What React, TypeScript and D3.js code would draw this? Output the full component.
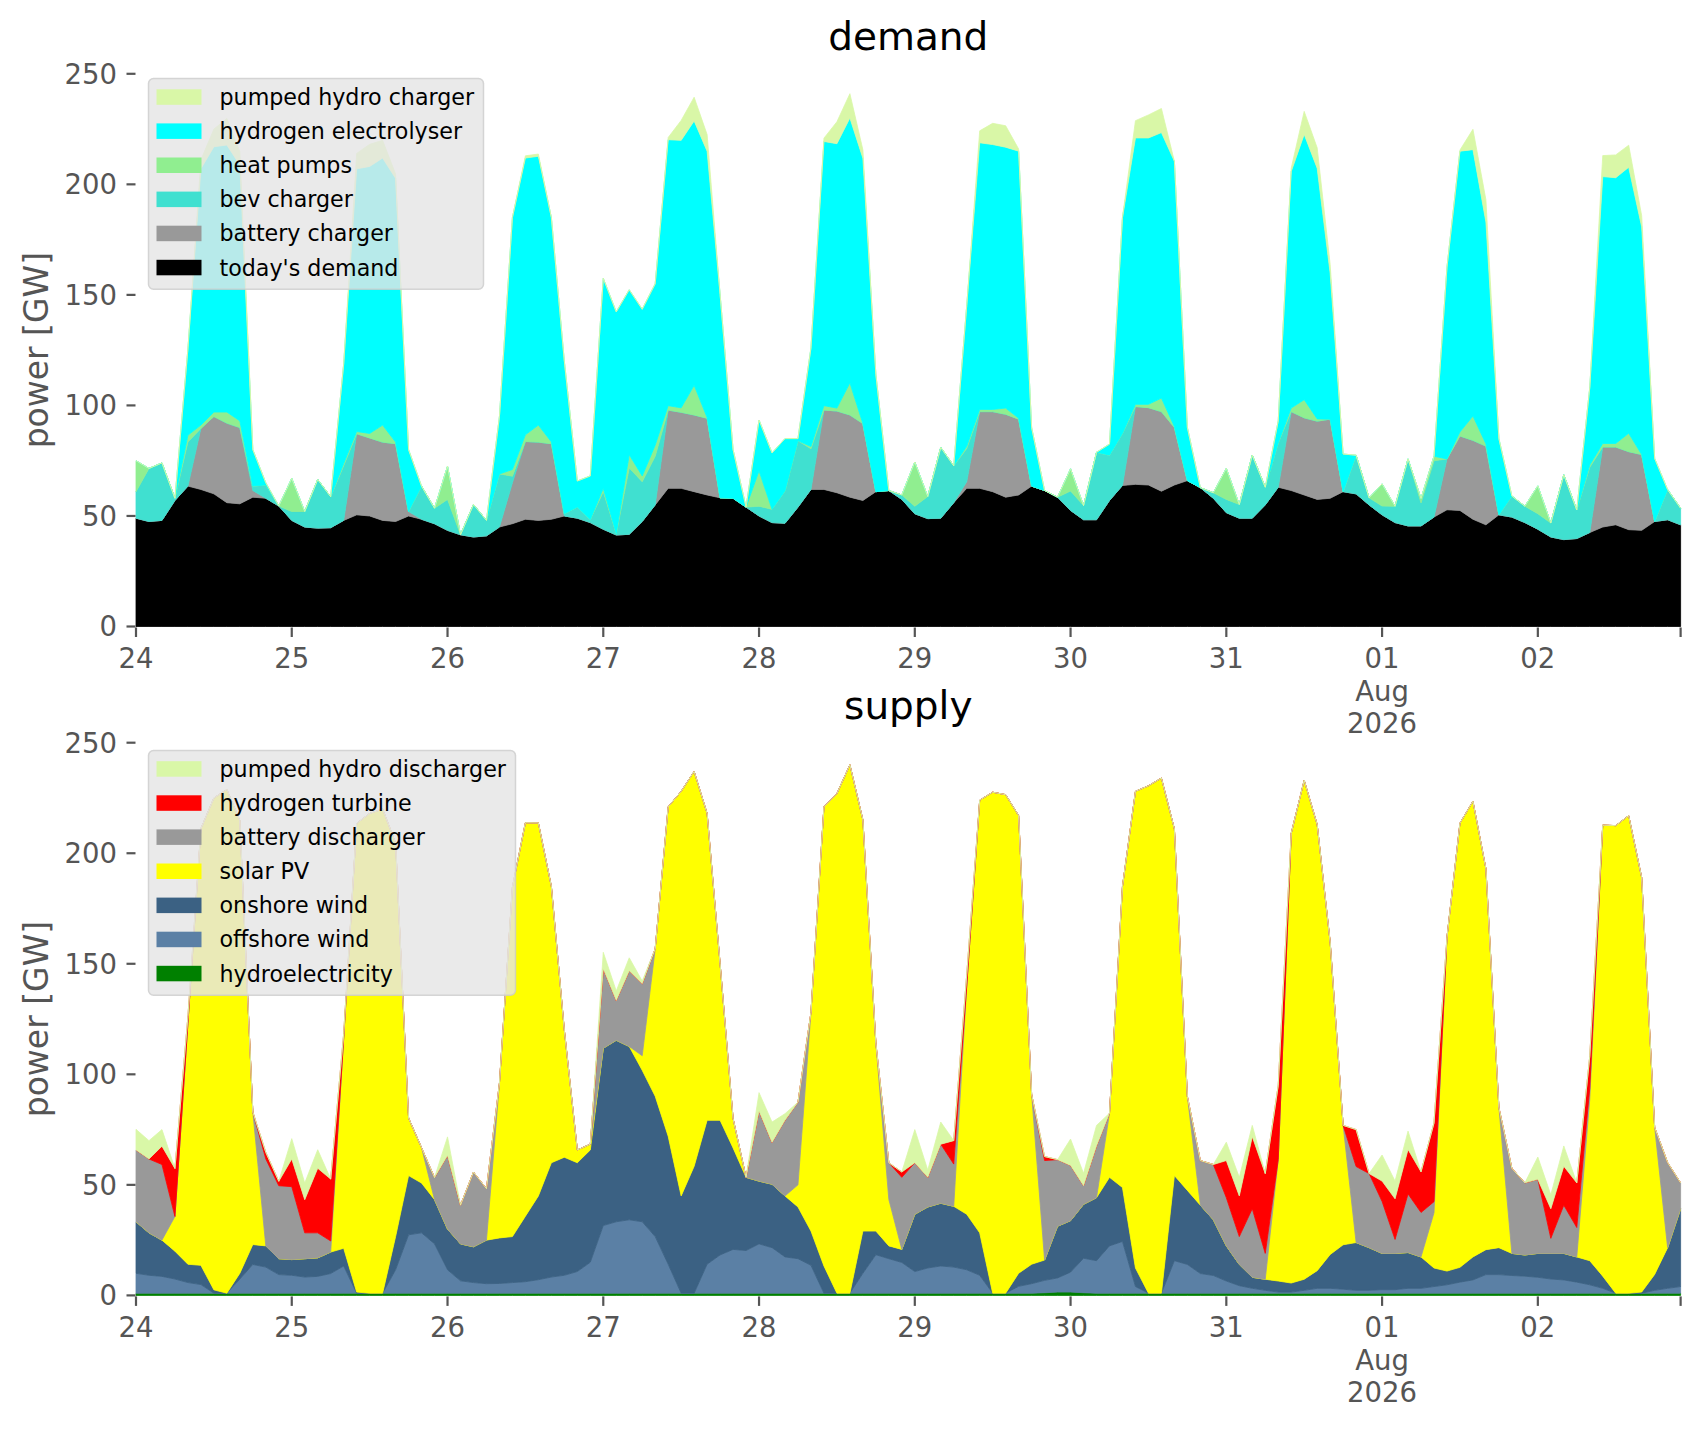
import * as d3 from "d3"

// one sample every 2 hours, starting 24 Jul 2026 00:00 (GW)
const START = new Date(2026, 6, 24, 0, 0)
const STEP_H = 2

// ---- demand ----
const todaysDemand = [
  49, 47.5, 48, 57, 63.5, 62, 60, 56, 55.5, 58.5, 58, 54.5,
  48, 45, 44.5, 44.7, 48, 50.5, 50, 48, 47.5, 50, 48.5, 46.5,
  43.5, 41.5, 40.5, 41, 45, 46.5, 48.5, 48, 48.5, 50, 49, 47,
  44, 41.4, 41.7, 47.5, 55, 62.5, 62.5, 61, 59.5, 58.2, 58, 54,
  50, 47, 46.7, 54, 62, 62, 60.5, 58.5, 57, 61, 61.5, 57.5,
  51, 48.8, 49, 56, 62.5, 62.5, 61, 58.5, 59.5, 63.5, 61.5, 58.5,
  52.5, 48.3, 48.3, 57, 63.8, 64.3, 64, 61.2, 64, 66, 62.8, 58,
  51.5, 49, 49, 55, 63, 61.5, 59.5, 57.5, 58, 61, 60, 55,
  50.5, 47, 45.5, 45.5, 49.5, 52.8, 52.5, 48.5, 46, 50.5, 49.5, 47,
  44, 40.5, 39.3, 39.8, 42.5, 45, 46, 43.8, 43.5, 47.5, 48.3, 46,
]
const batteryCharger = [
  0, 0, 0, 0, 0, 27.6, 35, 36, 34.5, 3, 0, 0,
  0, 0, 0, 0, 0, 36.7, 35.3, 35.4, 35.2, 2, 0, 0,
  0, 0, 0, 0, 0, 18.5, 35.2, 35.4, 34.2, 0, 0, 0,
  0, 0, 0, 0, 0, 35.4, 34.4, 34.7, 34.7, 0, 0, 0,
  0, 0, 0, 0, 0, 35.9, 37, 37.2, 34.8, 0, 0, 0,
  0, 0, 0, 0, 3, 34.7, 36.2, 37.5, 34.3, 0, 0, 0,
  0, 0, 0, 0, 0, 35.2, 35, 36, 26, 0, 0, 0,
  0, 0, 0, 0, 0, 35.7, 34.9, 35.4, 35.8, 0, 0, 0,
  0, 0, 0, 0, 0, 23, 33.7, 35.7, 35.6, 0, 0, 0,
  0, 0, 0, 0, 0, 36.2, 35.2, 35.3, 34.3, 0, 0, 0,
]
const bevCharger = [
  12, 24, 26, 1, 20, 0, 0, 0, 0, 2, 6, 0,
  4, 7, 22, 14, 24.7, 0, 0, 0, 0, 0, 15, 7,
  14, 0, 14.7, 7, 24, 3, 0, 0, 0, 1, 5, 1.3,
  17, 0.6, 30, 18, 22, 0, 0, 0, 0, 0, 0, 0,
  4.4, 6, 14.6, 30, 18.4, 0, 0, 0, 0, 0, 0, 2,
  3.4, 10, 32, 16.7, 15, 0, 0, 0, 0, 0, 0, 0,
  8.8, 6.4, 30.5, 20.5, 23.5, 0, 0, 0, 0, 0, 0, 2.5,
  6, 6.2, 28.5, 8, 20, 0, 0, 0, 0, 0, 17.5, 3.2,
  4, 7.4, 30.3, 10.4, 25.5, 0, 0, 0, 0, 0, 9.5, 7.4,
  7, 6.3, 29.3, 12.9, 29.5, 0, 0, 0, 0, 0, 13.6, 7.5,
]
const heatPumps = [
  14, 0, 0, 0, 3, 1.5, 2, 5, 3, 0, 0, 0,
  15, 0, 0, 0, 1, 1, 2, 7.7, 0.7, 0, 0, 0,
  15, 0, 0, 0, 0, 3, 3, 7.7, 0.8, 0, 0, 0,
  1.5, 0, 6, 2.6, 5, 2, 2, 13.4, 0.3, 0, 0, 0,
  16, 0, 0, 0, 1, 2, 1.3, 14.5, 0, 0, 0, 0,
  20, 0, 0, 0, 1, 1, 1, 2.8, 0.4, 0, 0, 0,
  10, 0, 0, 0, 0, 1, 1.5, 6.1, 0.4, 0, 0, 0,
  14, 0, 0, 0, 0, 1.6, 8.2, 1, 0, 0, 0, 0,
  10, 0, 0, 2, 2, 0, 1.8, 11, 1, 0, 0, 0,
  12.6, 0, 0, 0, 1, 1.6, 1.6, 8.3, 0, 0, 0, 0,
]
const hydrogenElectrolyser = [
  0, 0, 0, 0, 39, 116, 120, 120.8, 115.8, 16.5, 1, 0,
  0, 0, 0, 0, 45, 118.8, 120.8, 120.8, 119.3, 28, 0, 0,
  0, 0, 0, 0, 26, 114, 125.2, 121.6, 101.5, 69, 11.8, 19.8,
  95, 100.3, 74.6, 75.4, 73, 120.3, 121, 119.6, 120.5, 92, 22, 0,
  23, 25.5, 23.7, 1, 44.6, 119.5, 119.6, 119.8, 120, 53, 0, 0,
  0, 0, 0, 0, 63.6, 120.6, 119.8, 118, 120.8, 26.5, 0, 0,
  0, 0, 0, 5, 97.7, 120.5, 120.5, 120.1, 120, 24, 0, 0,
  0, 0, 0, 0, 10, 107, 120, 113.4, 66, 17, 0, 0,
  0, 0, 0, 0, 0, 86.7, 127, 120.5, 100.4, 34.5, 0, 0,
  0, 0, 0, 0, 35, 120.7, 120.2, 120.3, 103, 28.5, 0, 0,
]
const pumpedHydroCharger = [
  0, 0, 0, 0, 0, 4, 8, 12, 6, 0, 0, 0,
  0, 0, 0, 0, 0, 7, 10, 8, 2, 0, 0, 0,
  0, 0, 0, 0, 0, 0, 1, 1, 0, 0, 0, 0,
  0, 0, 0, 0, 0, 1, 9, 10.7, 7.5, 0, 0, 0,
  0, 0, 0, 0, 0, 1.5, 9.9, 11, 3.8, 0, 0, 0,
  0, 0, 0, 0, 0, 5.4, 9.6, 9.7, 1, 0, 0, 0,
  0, 0, 0, 0, 0, 7.8, 10.4, 10.9, 0, 0, 0, 0,
  0, 0, 0, 0, 0, 1.5, 10.4, 9.2, 4, 0, 0, 0,
  0, 0, 0, 0, 0, 0, 0.5, 9.2, 10, 0, 0, 0,
  0, 0, 0, 0, 0, 9.5, 10.3, 10, 5, 0, 0, 0,
]

// ---- supply ----
const hydroelectricity = [
  1, 1, 1, 1, 1, 1, 1, 1, 1, 1, 1, 1,
  1, 1, 1, 1, 1, 1, 1, 1, 1, 1, 1, 1,
  1, 1, 1, 1, 1, 1, 1, 1, 1, 1, 1, 1,
  1, 1, 1, 1, 1, 1, 1, 1, 1, 1, 1, 1,
  1, 1, 1, 1, 1, 1, 1, 1, 1, 1, 1, 1,
  1, 1, 1, 1, 1, 1, 1, 1, 1, 1, 1.2, 1.5,
  1.5, 1.2, 1, 1, 1, 1, 1, 1, 1, 1, 1, 1,
  1, 1, 1, 1, 1, 1, 1, 1, 1, 1, 1, 1,
  1, 1, 1, 1, 1, 1, 1, 1, 1, 1, 1, 1,
  1, 1, 1, 1, 1, 1, 1, 1, 1, 1, 1, 1,
]
const offshoreWind = [
  9, 8.1, 7.6, 6.4, 4.8, 3.9, 0, 0, 6.4, 13, 11.8, 8.4,
  8.1, 7.3, 7.6, 8.9, 12.3, 0, 0, 0, 10.6, 26.4, 27.3, 22.3,
  10.6, 5.6, 4.8, 4.3, 4.4, 4.8, 5.2, 6.1, 7.3, 8.1, 9.8, 14,
  30.6, 32.3, 33.2, 32.3, 25.6, 13.1, 0, 0, 13.1, 17.3, 19.8, 19.3,
  22.3, 20.6, 16.4, 15.6, 12.6, 0, 0, 0, 9, 17.4, 15.6, 13.9,
  9.8, 11.4, 12.3, 11.8, 10.6, 8.1, 0, 0, 3.1, 4.3, 5.6, 6.4,
  9, 15.6, 14.7, 21.4, 23.4, 3, 0, 0, 14.7, 13, 8.9, 8,
  5.5, 3.4, 2.2, 1.3, 0.5, 0.5, 1.3, 2.2, 2.2, 1.8, 1.3, 1.3,
  1.6, 1.6, 2.2, 2.2, 3, 3.8, 5, 6, 8.4, 8.4, 8, 7.7,
  7.2, 6.4, 6, 5, 3.8, 2.2, 0, 0, 0, 1.3, 2.2, 3,
]
const onshoreWind = [
  23.3, 19.2, 16.4, 12.6, 8.3, 8.7, 1.5, 0, 2.6, 9, 9.6, 7.2,
  7.1, 8.3, 8.4, 9.7, 8, 0.5, 0, 0, 15, 26.8, 22.5, 20,
  18.4, 16.7, 16.2, 19.7, 20.6, 20.8, 29.6, 37.9, 51.7, 53.4, 49.2, 50.8,
  80.2, 82.1, 78.4, 68.5, 63.5, 57.9, 44, 57.4, 65.1, 60.9, 45.9, 33.1,
  28.4, 28.7, 27.6, 23.4, 15.5, 12.3, 0, 0, 19.1, 10.7, 5.8, 5.9,
  25.9, 27.6, 28.4, 27.5, 25.1, 19.2, 0, 0, 5.9, 8.8, 9.2, 23.4,
  23.3, 24.4, 28.5, 31, 24.4, 8.4, 0, 0, 38.5, 33.5, 30.9, 25.2,
  15.9, 9.6, 5, 5, 5, 4.1, 5, 8, 15.3, 20.1, 21.6, 19.3,
  16.4, 16.4, 16.2, 14.2, 8.4, 6.2, 6.7, 10.4, 11.3, 12.2, 10, 9.6,
  10.8, 11.6, 12, 11.4, 10.9, 5.5, 0, 0, 0.5, 7.2, 18.4, 35.2,
]
const solarPV = [
  0, 0, 0, 15.7, 109, 197.5, 222.5, 227.8, 204.8, 60, 0, 0,
  0, 0, 0, 0, 95, 212, 217, 219, 178, 26, 16, 0,
  0, 0, 0, 0, 70, 158, 178, 168.7, 125, 57.5, 5.8, 2.6,
  0, 0, 0, 6.6, 66.7, 149, 183, 178.6, 138.8, 70.8, 13.3, 0,
  0, 0, 0, 10, 98.9, 207.7, 226, 239, 186, 85, 21, 0,
  0, 0, 0, 0, 103.3, 195.7, 226.6, 225.5, 207, 76.9, 0, 0,
  0, 0, 0, 29, 136.2, 215.6, 229.5, 233, 156.8, 42.5, 0, 0,
  0, 0, 0, 0, 55, 203.4, 225.7, 201.8, 141.3, 54, 0, 0,
  0, 0, 0, 0, 25, 151, 200.9, 206.1, 172.3, 63.4, 0, 0,
  0, 0, 0, 0, 73, 204, 211.5, 216, 187.5, 66.5, 0, 0,
]
const batteryDischarger = [
  32.5, 33.4, 34.2, 0, 0, 0, 0, 0, 0, 0, 39.3, 33,
  33, 11.7, 11.3, 5, 0, 0, 0, 0, 0, 0, 0, 10,
  33.3, 17.5, 33.8, 23.3, 0, 0, 0, 0, 0, 0, 0, 0,
  35.9, 18, 34.2, 32.6, 0, 0, 0, 0, 0, 0, 0, 0,
  31.7, 18.9, 34.2, 37.4, 0, 0, 0, 0, 0, 0, 16.6, 32.6,
  23.3, 13.4, 26.7, 19.1, 0, 0, 0, 0, 0, 0, 45, 30.1,
  25, 8.4, 23.4, 0, 0, 0, 0, 0, 0, 0, 20.2, 25,
  21.8, 12.6, 31, 11.7, 0, 0, 0, 0, 0, 0, 34.4, 33.5,
  23.5, 6.3, 26.5, 20.1, 5, 0, 0, 0, 0, 0, 38.5, 32.6,
  33.5, 6.8, 21.8, 13.3, 5, 0, 0, 0, 0, 0, 38.5, 11.7,
]
const hydrogenTurbine = [
  0, 0, 8.3, 21.7, 3, 0, 0, 0, 0, 0, 3, 2,
  12.5, 15, 29.2, 28, 2, 0, 0, 0, 0, 0, 0, 0,
  0, 0, 0, 0, 0, 0, 0, 0, 0, 0, 0, 0,
  0, 0, 0, 0, 0, 0, 0, 0, 0, 0, 0, 0,
  0, 0, 0, 0, 0, 0, 0, 0, 0, 0, 0, 2.4,
  0, 0, 0, 10.6, 5, 0, 0, 0, 0, 0, 1.8, 0,
  0, 0, 0, 0, 0, 0, 0, 0, 0, 0, 0, 0,
  16.8, 18.4, 32.6, 36.1, 33.5, 0, 0, 0, 0, 0, 16.7, 0,
  9.2, 18.4, 20.1, 18.4, 35.6, 0, 0, 0, 0, 0, 0, 0,
  0, 13.4, 17.6, 20.2, 14.4, 0, 0, 0, 0, 0, 0, 0,
]
const pumpedHydroDischarger = [
  9.3, 8.3, 7.5, 0, 0, 0, 0, 0, 0, 0, 0, 0,
  9.2, 7.5, 8.4, 0, 0, 0, 0, 0, 0, 0, 0, 0,
  8.4, 0, 0, 0, 0, 0, 0, 0, 0, 0, 0, 0,
  7.5, 4.3, 5.9, 1.2, 0, 0, 0, 0, 0, 0, 0, 0,
  8.3, 9.2, 3, 0, 0, 0, 0, 0, 0, 0, 0, 0,
  15, 3.3, 10, 0, 0, 0, 0, 0, 0, 0, 0, 0,
  11.9, 5.6, 9.3, 0, 0, 0, 0, 0, 0, 0, 0, 0,
  8.3, 8.4, 5.1, 0, 0, 0, 0, 0, 0, 0, 0, 0,
  11.8, 8, 8.3, 0, 0, 0, 0, 0, 0, 0, 0, 0,
  10.1, 6.3, 9.2, 0, 0, 0, 0, 0, 0, 0, 0, 0,
]

const yTicks = [0, 50, 100, 150, 200, 250]

interface Layer {
  label: string;
  color: string;
  values: number[];
}

const PALE = "#d9f7a7"

// bottom of the stack first
const demandLayers: Layer[] = [
  { label: "today's demand", color: "#000000", values: todaysDemand },
  { label: "battery charger", color: "#999999", values: batteryCharger },
  { label: "bev charger", color: "#40e0d0", values: bevCharger },
  { label: "heat pumps", color: "#90ee90", values: heatPumps },
  { label: "hydrogen electrolyser", color: "#00ffff", values: hydrogenElectrolyser },
  { label: "pumped hydro charger", color: PALE, values: pumpedHydroCharger },
]
const supplyLayers: Layer[] = [
  { label: "hydroelectricity", color: "#008000", values: hydroelectricity },
  { label: "offshore wind", color: "#5b80a5", values: offshoreWind },
  { label: "onshore wind", color: "#3b6183", values: onshoreWind },
  { label: "solar PV", color: "#ffff00", values: solarPV },
  { label: "battery discharger", color: "#999999", values: batteryDischarger },
  { label: "hydrogen turbine", color: "#ff0000", values: hydrogenTurbine },
  { label: "pumped hydro discharger", color: PALE, values: pumpedHydroDischarger },
]

// --- layout ---
const FONT = "DejaVu Sans, Liberation Sans, sans-serif"
const TICK_COLOR = "#555555"
const LEFT = 136
const HOUR_PX = 6.49
const PLOT_H = 552.7

const times = todaysDemand.map((_, i) => d3.timeHour.offset(START, i * STEP_H))
const xScale = d3.scaleTime()
  .domain([times[0], times[times.length - 1]])
  .range([LEFT, LEFT + (times.length - 1) * STEP_H * HOUR_PX])
const dayTicks = d3.timeDay.range(times[0], times[times.length - 1])
const fmtDay = d3.timeFormat("%d")

interface PanelProps {
  title: string;
  top: number;
  layers: Layer[];
  legendTop: number;
  legendWidth: number;
}

function Panel({ title, top, layers, legendTop, legendWidth }: PanelProps) {
  const bottom = top + PLOT_H
  const y = d3.scaleLinear().domain([0, 250]).range([bottom, top])

  const rows = times.map((_, i) => {
    const r: Record<string, number> = {}
    layers.forEach((l, k) => { r["s" + k] = l.values[i] })
    return r
  })
  const keys = layers.map((_, k) => "s" + k)
  const stacked = d3.stack<Record<string, number>>().keys(keys)(rows)
  const area = d3.area<d3.SeriesPoint<Record<string, number>>>()
    .x((_, i) => xScale(times[i]))
    .y0(d => y(d[0]))
    .y1(d => y(d[1]))

  const xEnd = xScale.range()[1]
  const rowH = 34.1
  const legendRows = [...layers].reverse()
  const legendH = legendRows.length * rowH + 6

  return (
    <g>
      {/* stacked areas */}
      {stacked.map((s, k) => (
        <path key={k} d={area(s) || ""} fill={layers[k].color}
          stroke={layers[k].color} strokeWidth={0.8} />
      ))}

      {/* title */}
      <text x={(LEFT + xEnd) / 2} y={top - 24} textAnchor="middle"
        fontFamily={FONT} fontSize={39} fill="#000">{title}</text>

      {/* y axis */}
      {yTicks.map(t => (
        <g key={t}>
          <line x1={LEFT - 9.5} x2={LEFT - 0.5} y1={y(t)} y2={y(t)} stroke={TICK_COLOR} strokeWidth={2.2} />
          <text x={LEFT - 19} y={y(t)} dy="0.36em" textAnchor="end"
            fontFamily={FONT} fontSize={27.5} fill={TICK_COLOR}>{t}</text>
        </g>
      ))}
      <text transform={`translate(48,${(top + bottom) / 2}) rotate(-90)`} textAnchor="middle"
        fontFamily={FONT} fontSize={33} fill={TICK_COLOR}>power [GW]</text>

      {/* x axis */}
      {dayTicks.map(d => {
        const px = xScale(d)
        const isMonthStart = d.getDate() === 1
        return (
          <g key={d.getTime()}>
            <line x1={px} x2={px} y1={bottom + 1} y2={bottom + 10.5} stroke={TICK_COLOR} strokeWidth={2.2} />
            <text x={px} y={bottom + 32} dy="0.36em" textAnchor="middle"
              fontFamily={FONT} fontSize={27.5} fill={TICK_COLOR}>{fmtDay(d)}</text>
            {isMonthStart && (
              <>
                <text x={px} y={bottom + 65} dy="0.36em" textAnchor="middle"
                  fontFamily={FONT} fontSize={27.5} fill={TICK_COLOR}>{d3.timeFormat("%b")(d)}</text>
                <text x={px} y={bottom + 97} dy="0.36em" textAnchor="middle"
                  fontFamily={FONT} fontSize={27.5} fill={TICK_COLOR}>{d3.timeFormat("%Y")(d)}</text>
              </>
            )}
          </g>
        )
      })}
      <line x1={xEnd} x2={xEnd} y1={bottom + 1} y2={bottom + 10.5} stroke={TICK_COLOR} strokeWidth={2.2} />

      {/* legend */}
      <g transform={`translate(148.5,${legendTop})`}>
        <rect x={0} y={0} width={legendWidth} height={legendH} rx={5}
          fill="#e5e5e5" fillOpacity={0.8} stroke="#cccccc" strokeOpacity={0.8} strokeWidth={1.5} />
        {legendRows.map((l, i) => {
          const cy = 18.5 + i * rowH
          return (
            <g key={l.label}>
              <rect x={8} y={cy - 7.8} width={45} height={15.5} fill={l.color} />
              <text x={71} y={cy} dy="0.36em" fontFamily={FONT} fontSize={22.2} fill="#000">{l.label}</text>
            </g>
          )
        })}
      </g>
    </g>
  )
}

export default function App() {
  return (
    <svg width={1706} height={1431} viewBox="0 0 1706 1431"
      style={{ position: "absolute", left: 0, top: 0, background: "#ffffff" }}>
      <rect x={0} y={0} width={1706} height={1431} fill="#ffffff" />
      <Panel title="demand" top={73.8} layers={demandLayers} legendTop={78.6} legendWidth={335} />
      <Panel title="supply" top={742.7} layers={supplyLayers} legendTop={750.5} legendWidth={367} />
    </svg>
  )
}
